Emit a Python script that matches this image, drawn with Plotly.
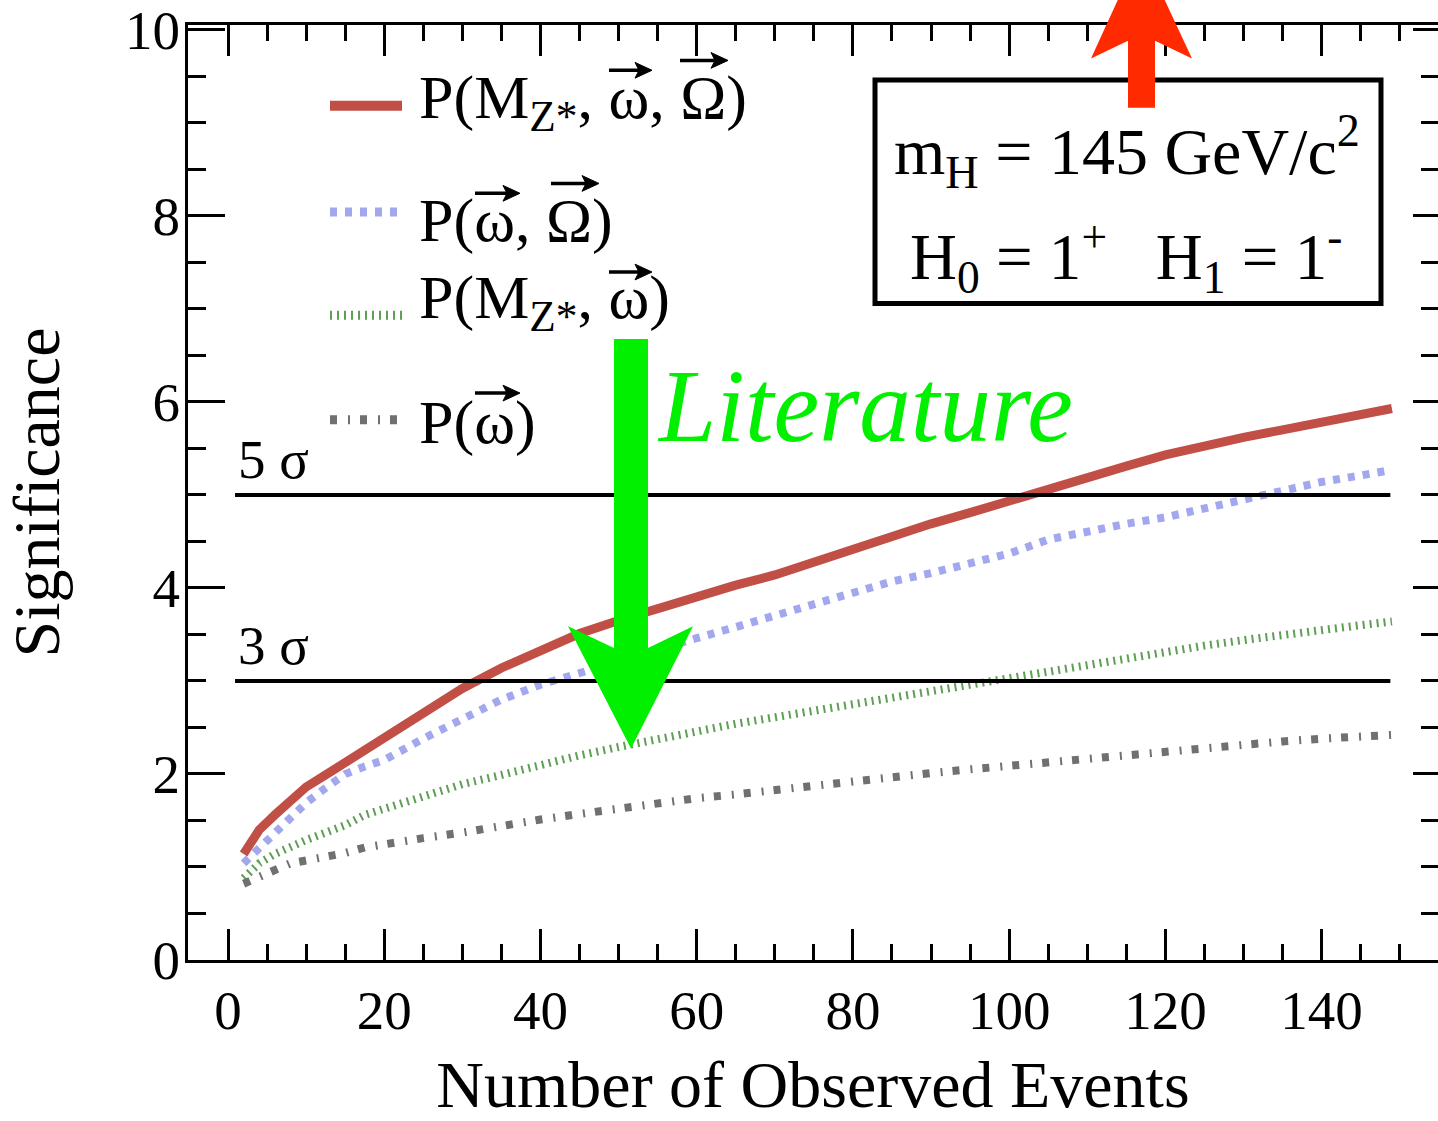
import plotly.graph_objects as go

# ---- data -------------------------------------------------------------
events = [2, 4, 6, 8, 10, 12.5, 15, 17.5, 20, 25, 30, 35, 40, 45, 50, 55, 60,
          65, 70, 75, 80, 85, 90, 95, 100, 105, 110, 115, 120, 125, 130, 135,
          140, 145, 149]

sig_mz_w_W = [1.14, 1.40, 1.56, 1.71, 1.86, 1.99, 2.12, 2.27, 2.38, 2.65, 2.92,
              3.14, 3.33, 3.51, 3.65, 3.78, 3.91, 4.03, 4.14, 4.28, 4.42, 4.56,
              4.69, 4.81, 4.94, 5.07, 5.19, 5.31, 5.43, 5.53, 5.62, 5.70, 5.78,
              5.86, 5.93]

sig_w_W = [1.04, 1.21, 1.37, 1.53, 1.69, 1.85, 2.00, 2.08, 2.15, 2.38, 2.60,
           2.80, 2.96, 3.09, 3.22, 3.33, 3.46, 3.58, 3.70, 3.82, 3.95, 4.07,
           4.16, 4.26, 4.37, 4.52, 4.61, 4.69, 4.76, 4.86, 4.96, 5.05, 5.14,
           5.21, 5.27]

sig_mz_w = [0.88, 1.04, 1.14, 1.22, 1.29, 1.37, 1.45, 1.56, 1.63, 1.76, 1.89,
            1.99, 2.10, 2.20, 2.29, 2.38, 2.47, 2.54, 2.61, 2.68, 2.75, 2.83,
            2.91, 2.98, 3.05, 3.12, 3.19, 3.26, 3.32, 3.38, 3.44, 3.50, 3.55,
            3.60, 3.64]

sig_w = [0.82, 0.90, 0.96, 1.04, 1.07, 1.10, 1.15, 1.21, 1.25, 1.31, 1.37,
         1.45, 1.51, 1.57, 1.63, 1.68, 1.74, 1.78, 1.83, 1.87, 1.92, 1.97,
         2.01, 2.05, 2.09, 2.13, 2.17, 2.21, 2.25, 2.29, 2.32, 2.35, 2.38,
         2.40, 2.42]

sigma_levels = [5, 3]
sigma_labels = ["5\u00a0σ", "3\u00a0σ"]
sigma_span = [0.9, 148.8]

series_labels = [
    "P(M<sub>Z*</sub>, ω, Ω)",
    "P(ω, Ω)",
    "P(M<sub>Z*</sub>, ω)",
    "P(ω)",
]
series_values = [sig_mz_w_W, sig_w_W, sig_mz_w, sig_w]
series_colors = ["#c14f45", "#a3a8ee", "#5f9e55", "#6e726e"]
series_dash = ["solid", "7px,8px", "2px,5px", "7px,11px,2px,10px"]
series_width = [9, 8, 8, 8]

box_lines = ["m<sub>H</sub> = 145 GeV/c<sup>2</sup>",
             "H<sub>0</sub> = 1<sup>+</sup>\u00a0\u00a0\u00a0H<sub>1</sub> = 1<sup>-</sup>"]

# ---- geometry helpers (pixel -> paper) ----------------------------------
W, H = 1438, 1121
ML, MR, MT, MB = 188, 0, 22, 149
PW, PH = W - ML - MR, H - MT - MB


def px(x):
    return (x - ML) / PW


def py(y):
    return (H - MB - y) / PH


def path(points, close=True):
    s = "M " + " L ".join(f"{px(x):.5f},{py(y):.5f}" for x, y in points)
    return s + (" Z" if close else "")


FONT = "Liberation Serif, Times New Roman, serif"

fig = go.Figure()

for vals, col, dash, lw, name in zip(series_values, series_colors, series_dash,
                                     series_width, series_labels):
    fig.add_trace(go.Scatter(x=events, y=vals, mode="lines", name=name,
                             line=dict(color=col, dash=dash, width=lw),
                             showlegend=False))

# significance reference levels (drawn on top of the curves)
for lvl in sigma_levels:
    fig.add_trace(go.Scatter(x=sigma_span, y=[lvl, lvl], mode="lines",
                             line=dict(color="black", width=4),
                             showlegend=False, yaxis="y2"))

shapes = []
annotations = []

# legend: line samples + labels
legend_rows = [104, 212, 317, 423]
legend_text_y = [100, 221, 303, 426]
for row, ty, col, dash, lw, name in zip(legend_rows, legend_text_y, series_colors,
                                        series_dash, series_width, series_labels):
    shapes.append(dict(type="line", xref="paper", yref="paper",
                       x0=px(330), x1=px(402), y0=py(row), y1=py(row),
                       line=dict(color=col, dash=dash, width=lw + 1)))
    annotations.append(dict(xref="paper", yref="paper", x=px(417), y=py(ty),
                            xanchor="left", yanchor="middle", showarrow=False,
                            text=name, font=dict(family=FONT, size=62, color="black")))

# vector arrows over omega / Omega in the legend labels: (x_start, x_end, y)
vec_marks = [(609, 652, 68), (680, 728, 58),
             (475, 520, 193), (551, 599, 183),
             (609, 652, 273),
             (475, 520, 396)]
for x0, x1, yy in vec_marks:
    shapes.append(dict(type="line", xref="paper", yref="paper",
                       x0=px(x0), x1=px(x1 - 8), y0=py(yy), y1=py(yy),
                       line=dict(color="black", width=3.5)))
    shapes.append(dict(type="path", xref="paper", yref="paper",
                       path=path([(x1 - 17, yy - 8), (x1, yy), (x1 - 17, yy + 8),
                                  (x1 - 13, yy)]),
                       fillcolor="black", line=dict(color="black", width=1)))

# sigma labels
for lvl, lab in zip(sigma_levels, sigma_labels):
    annotations.append(dict(xref="x", yref="y", x=1.0, y=lvl + 0.38,
                            xanchor="left", yanchor="middle", showarrow=False,
                            text=lab, font=dict(family=FONT, size=55, color="black")))

# info box
shapes.append(dict(type="rect", xref="paper", yref="paper",
                   x0=px(875), x1=px(1381), y0=py(78), y1=py(305),
                   line=dict(color="black", width=5), fillcolor="rgba(0,0,0,0)"))
annotations.append(dict(xref="paper", yref="paper", x=px(1127), y=py(151),
                        xanchor="center", yanchor="middle", showarrow=False,
                        text=box_lines[0], font=dict(family=FONT, size=66, color="black")))
annotations.append(dict(xref="paper", yref="paper", x=px(1126), y=py(258),
                        xanchor="center", yanchor="middle", showarrow=False,
                        text=box_lines[1], font=dict(family=FONT, size=65, color="black")))

# "Literature" arrow pointing down
shapes.append(dict(type="path", xref="paper", yref="paper", layer="above",
                   path=path([(614, 341), (648, 341), (648, 655), (693, 633),
                              (631, 757), (568, 633), (614, 655)]),
                   fillcolor="#00f000", line=dict(width=0)))
annotations.append(dict(xref="paper", yref="paper", x=px(655), y=py(409),
                        xanchor="left", yanchor="middle", showarrow=False,
                        text="<i>Literature</i>",
                        font=dict(family=FONT, size=103, color="#00f000")))

# red arrow pointing up, past the frame
shapes.append(dict(type="path", xref="paper", yref="paper", layer="above",
                   path=path([(1128, 106), (1128, 38), (1091, 56), (1141, -55),
                              (1192, 56), (1155, 38), (1155, 106)]),
                   fillcolor="#ff2a00", line=dict(width=0)))

tick_font = dict(family=FONT, size=55, color="black")

fig.update_layout(
    width=W, height=H,
    margin=dict(l=ML, r=MR, t=MT, b=MB, pad=0),
    paper_bgcolor="white", plot_bgcolor="white",
    shapes=shapes, annotations=annotations,
    xaxis=dict(range=[-5.12, 154.9], showgrid=False, zeroline=False,
               showline=True, linecolor="black", linewidth=3, mirror="ticks",
               ticks="inside", ticklen=31, tickwidth=2.5, tickcolor="black",
               tick0=0, dtick=20, tickfont=tick_font, ticklabeloverflow="allow",
               minor=dict(ticks="inside", ticklen=16, tickwidth=2.5,
                          tickcolor="black", dtick=5, tick0=0, showgrid=False),
               title=dict(text="Number of Observed Events",
                          font=dict(family=FONT, size=66, color="black"),
                          standoff=34)),
    yaxis=dict(range=[0, 10.053], showgrid=False, zeroline=False,
               showline=True, linecolor="black", linewidth=3, mirror=False,
               ticks="inside", ticklen=37, tickwidth=2.5, tickcolor="black",
               tick0=0, dtick=2, tickfont=tick_font, ticklabelstandoff=-6,
               ticklabeloverflow="allow",
               minor=dict(ticks="inside", ticklen=18, tickwidth=2.5,
                          tickcolor="black", dtick=0.5, tick0=0, showgrid=False),
               title=dict(text="Significance",
                          font=dict(family=FONT, size=66, color="black"),
                          standoff=70)),
    yaxis2=dict(range=[0, 10.053], overlaying="y", side="right", anchor="x",
                showgrid=False, zeroline=False, showline=False,
                showticklabels=False, ticks="inside", ticklen=25, tickwidth=2.5,
                tickcolor="black", tick0=0, dtick=2,
                minor=dict(ticks="inside", ticklen=17, tickwidth=2.5,
                           tickcolor="black", dtick=0.5, tick0=0, showgrid=False)),
)

fig.write_html("out.html")
